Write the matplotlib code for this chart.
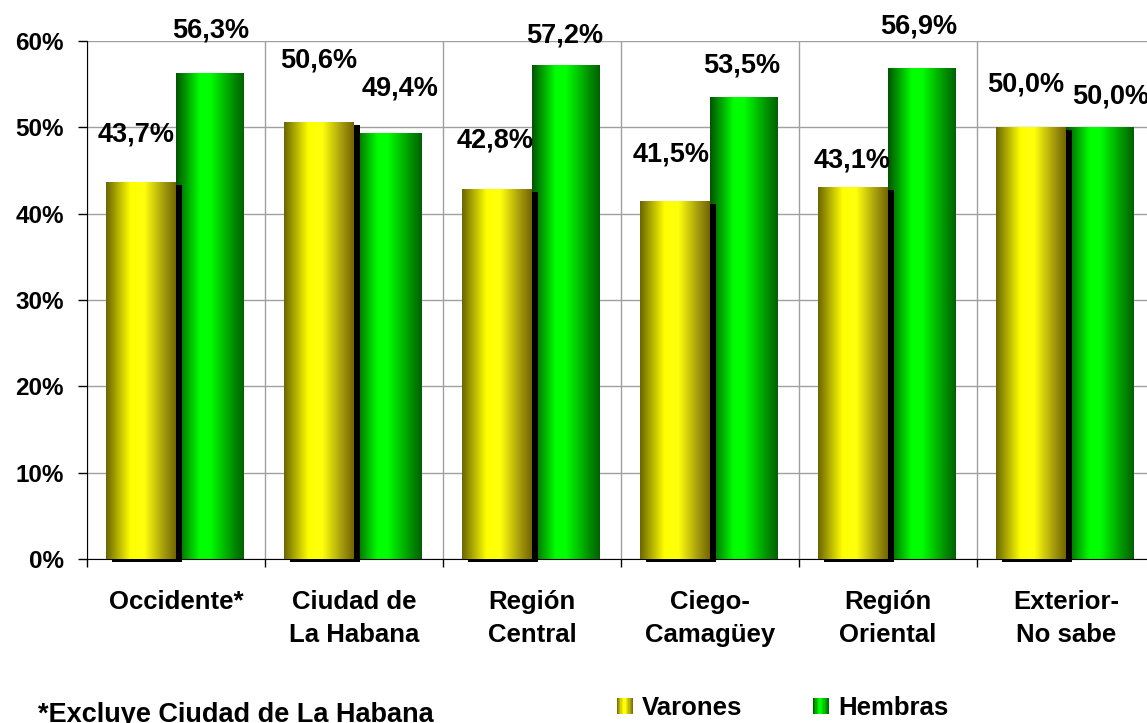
import numpy as np
import matplotlib
matplotlib.use('Agg')
import matplotlib.pyplot as plt
from matplotlib.colors import LinearSegmentedColormap
from matplotlib.legend_handler import HandlerBase
from matplotlib.patches import Rectangle
from matplotlib.transforms import ScaledTranslation

plt.rcParams['font.family'] = ['Liberation Sans', 'DejaVu Sans']
plt.rcParams['font.weight'] = 'bold'

# data
categories = ['Occidente*', 'Ciudad de\nLa Habana', 'Región\nCentral',
              'Ciego-\nCamagüey', 'Región\nOriental', 'Exterior-\nNo sabe']
varones = [43.7, 50.6, 42.8, 41.5, 43.1, 50.0]
hembras = [56.3, 49.4, 57.2, 53.5, 56.9, 50.0]
y_ticks = [0, 10, 20, 30, 40, 50, 60]
series_names = ['Varones', 'Hembras']
footnote = '*Excluye Ciudad de La Habana'

# label offsets in pixels from the top centre of each bar (manual placement)
var_off = [(-5, 47), (0, 62), (-2, 49), (-4, 46), (-1, 26), (-5, 43)]
hem_off = [(1, 42), (12, 44), (-1, 30), (-2, 32), (-3, 41), (11, 31)]

cmap_y = LinearSegmentedColormap.from_list('yel', [
    (0.0, (0.42, 0.40, 0.0)), (0.35, (1.0, 1.0, 0.0)), (0.55, (1.0, 1.0, 0.05)),
    (0.85, (0.62, 0.58, 0.05)), (1.0, (0.45, 0.40, 0.0))])
cmap_g = LinearSegmentedColormap.from_list('grn', [
    (0.0, (0.0, 0.33, 0.0)), (0.35, (0.0, 1.0, 0.0)), (0.5, (0.0, 1.0, 0.0)),
    (0.85, (0.0, 0.55, 0.0)), (1.0, (0.0, 0.38, 0.0))])

W, H = 1147, 723
fig = plt.figure(figsize=(W / 100, H / 100), dpi=100)
ax = fig.add_axes([87 / W, 1 - 559 / H, 1068 / W, (559 - 41) / H])

x = np.arange(len(categories))
wy, wg = 0.393, 0.382
grad = np.linspace(0, 1, 256).reshape(1, -1)

bars_g = ax.bar(x, hembras, width=wg, align='edge', color='none', zorder=2)
shadow_tr = ax.transData + ScaledTranslation(6 / 100, -3 / 100, fig.dpi_scale_trans)
ax.bar(x - wy, varones, width=wy, align='edge', color='black', zorder=3,
       transform=shadow_tr, clip_on=False)
bars_y = ax.bar(x - wy, varones, width=wy, align='edge', color='none', zorder=4)

for bars, cmap, z in [(bars_g, cmap_g, 2.5), (bars_y, cmap_y, 4.5)]:
    for b in bars:
        bx, by, bw, bh = b.get_x(), b.get_y(), b.get_width(), b.get_height()
        im = ax.imshow(grad, extent=[bx, bx + bw, by, by + bh], aspect='auto',
                       cmap=cmap, zorder=z, interpolation='bilinear')
        im.set_clip_path(b)

def fmt(v):
    return f'{v:.1f}'.replace('.', ',') + '%'

for bars, vals, offs in [(bars_y, varones, var_off), (bars_g, hembras, hem_off)]:
    for b, v, off in zip(bars, vals, offs):
        ax.annotate(fmt(v), xy=(b.get_x() + b.get_width() / 2, v), xytext=off,
                    textcoords='offset pixels', ha='center', va='center',
                    fontsize=19.5, fontweight='bold', zorder=10, annotation_clip=False)

ax.set_xlim(-0.5, len(categories) - 0.5)
ax.set_ylim(0, 60)
ax.set_yticks(y_ticks, [f'{t}%' for t in y_ticks], fontsize=17.5)
ax.set_xticks(x, categories, fontsize=18.5, linespacing=1.5)
ax.set_xticks(np.arange(len(categories) + 1) - 0.5, minor=True)
ax.tick_params(axis='x', which='major', length=0, pad=22)
ax.tick_params(axis='x', which='minor', length=6, width=1, direction='out')
ax.tick_params(axis='y', length=6.5, width=1, direction='out', pad=10)

ax.set_axisbelow(True)
ax.grid(axis='y', which='major', color='#a0a0a0', lw=1)
ax.grid(axis='x', which='minor', color='#a0a0a0', lw=1)
for s in ['top', 'right']:
    ax.spines[s].set_visible(False)
ax.spines['left'].set_color('black')
ax.spines['bottom'].set_color('black')


class GradientHandler(HandlerBase):
    def __init__(self, cmap):
        super().__init__()
        self.cmap = cmap

    def create_artists(self, legend, orig_handle, xdescent, ydescent, width,
                       height, fontsize, trans):
        n = 14
        out = []
        for i in range(n):
            out.append(Rectangle((-xdescent + width * i / n, -ydescent), width / n, height,
                                 facecolor=self.cmap((i + 0.5) / n), edgecolor='none',
                                 transform=trans))
        return out


h1 = Rectangle((0, 0), 1, 1)
h2 = Rectangle((0, 0), 1, 1)
fig.legend([h1, h2], series_names, loc='center left',
           bbox_to_anchor=(617 / W, 1 - 708 / H), ncol=2, frameon=False,
           prop={'size': 18.5, 'weight': 'bold'}, borderpad=0, borderaxespad=0,
           handlelength=0.62, handleheight=0.6, handletextpad=0.36,
           columnspacing=2.75,
           handler_map={h1: GradientHandler(cmap_y), h2: GradientHandler(cmap_g)})

fig.text(38 / W, 1 - 722 / H, footnote, fontsize=19.5, fontweight='bold',
         ha='left', va='baseline')

fig.savefig('out.png', dpi=100)
